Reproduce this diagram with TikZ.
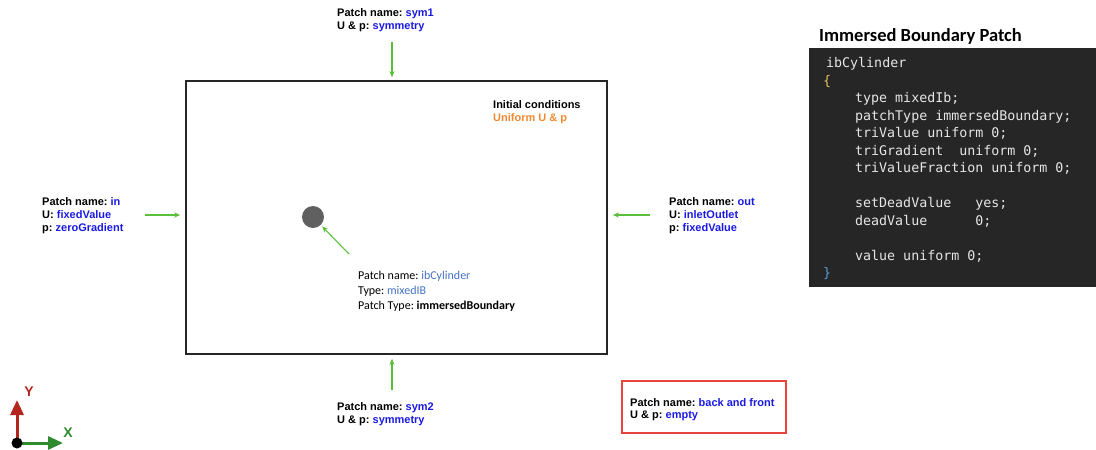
\documentclass[tikz,border=0pt]{standalone}
\usepackage{fontspec}
\setmainfont{Liberation Sans}
\newfontfamily\calfont{Carlito}
\newfontfamily\monofont{DejaVu Sans Mono}
\usetikzlibrary{arrows.meta}
\frenchspacing
\definecolor{valblue}{HTML}{1A1AE6}
\definecolor{ibblue}{HTML}{4472C4}
\definecolor{icorange}{HTML}{F08A30}
\definecolor{arrgreen}{HTML}{5BBE3A}
\definecolor{boxred}{HTML}{E8453C}
\definecolor{axred}{HTML}{B3261E}
\definecolor{axgreen}{HTML}{2E8B2E}
\definecolor{codebg}{HTML}{262626}
\definecolor{codefg}{HTML}{E6E6E6}
\definecolor{braceyel}{HTML}{E0C060}
\definecolor{braceblue}{HTML}{569CD6}
\definecolor{cylgray}{HTML}{606060}
\tikzset{
  lbl/.style={anchor=north west, inner sep=0pt, align=left, font=\frenchspacing\fontsize{11}{13}\selectfont\bfseries},
  iblbl/.style={anchor=north west, inner sep=0pt, align=left, font=\frenchspacing\calfont\fontsize{12}{15}\selectfont},
  codeline/.style={anchor=base west, inner sep=0pt, text=codefg, font=\monofont\fontsize{13.3}{17.5}\selectfont},
  bcarrow/.style={draw=arrgreen, line width=1.1pt, -{Stealth[length=6pt,width=5pt]}},
  axarrow/.style={line width=3pt, -{Triangle[length=15pt,width=13pt]}}
}
\begin{document}
\begin{tikzpicture}[x=1pt,y=-1pt]
\useasboundingbox (0,0) rectangle (1096,450);
% domain
\node[draw=black!85, line width=1.6pt, minimum width=421pt, minimum height=273pt, inner sep=0pt] (domain) at (396.5,217.5) {};
% cylinder
\node[circle, fill=cylgray, minimum size=22pt, inner sep=0pt] (cyl) at (313,217) {};
% labels
\node[lbl] (sym1) at (337,8) {Patch name: \textcolor{valblue}{sym1}\\U \& p: \textcolor{valblue}{symmetry}};
\node[lbl] (inlbl) at (42,197) {Patch name: \textcolor{valblue}{in}\\U: \textcolor{valblue}{fixedValue}\\p: \textcolor{valblue}{zeroGradient}};
\node[lbl] (outlbl) at (669,197) {Patch name: \textcolor{valblue}{out}\\U: \textcolor{valblue}{inletOutlet}\\p: \textcolor{valblue}{fixedValue}};
\node[lbl] (init) at (493,100) {Initial conditions\\\textcolor{icorange}{Uniform U \& p}};
\node[lbl] (sym2) at (337,402) {Patch name: \textcolor{valblue}{sym2}\\U \& p: \textcolor{valblue}{symmetry}};
\node[iblbl] (iblbl) at (358,270.5) {Patch name: \textcolor{ibblue}{ibCylinder}\\Type: \textcolor{ibblue}{mixedIB}\\Patch Type: \textbf{immersedBoundary}};
% back and front box
\node[draw=boxred, line width=1.3pt, minimum width=164pt, minimum height=52pt, inner sep=0pt] (bfbox) at (704,407) {};
\node[lbl, font=\frenchspacing\fontsize{11}{12.5}\selectfont\bfseries] (bflbl) at (630,398) {Patch name: \textcolor{valblue}{back and front}\\U \& p: \textcolor{valblue}{empty}};
% arrows
\coordinate (topstart) at (392,42);
\coordinate (botstart) at (392,390);
\coordinate (leftstart) at (145,215);
\coordinate (rightstart) at (650,215);
\coordinate (cylstart) at (349,254);
\draw[bcarrow, shorten >=3pt] (topstart) -- (topstart |- domain.north);
\draw[bcarrow, shorten >=4pt] (botstart) -- (botstart |- domain.south);
\draw[bcarrow, shorten >=5pt] (leftstart) -- (leftstart -| domain.west);
\draw[bcarrow, shorten >=5pt] (rightstart) -- (rightstart -| domain.east);
\draw[bcarrow, shorten >=2pt] (cylstart) -- (cyl);
% axes
\coordinate (origin) at (17,443);
\coordinate (yend) at (17,400);
\coordinate (xend) at (63,443);
\draw[axarrow, axred] (origin) -- (yend);
\draw[axarrow, axgreen] (origin) -- (xend);
\fill[black] (origin) circle (5.5pt);
\node[text=axred, font=\fontsize{14}{14}\selectfont\bfseries, inner sep=0pt] (ylbl) at (29,392) {Y};
\node[text=axgreen, font=\fontsize{14}{14}\selectfont\bfseries, inner sep=0pt] (xlbl) at (68,433) {X};
% code panel
\node[anchor=base west, inner sep=0pt, font=\calfont\bfseries\fontsize{18.5}{20}\selectfont] (title) at (819,41) {Immersed Boundary Patch};
\fill[codebg] (809,48) rectangle (1096,287);
\node[codeline] (c0) at (826,67.5) {ibCylinder};
\node[codeline, text=braceyel] (c1) at (823,85) {\{};
\node[codeline] (c2) at (855,102.5) {type mixedIb;};
\node[codeline] (c3) at (855,120) {patchType immersedBoundary;};
\node[codeline] (c4) at (855,137.5) {triValue uniform 0;};
\node[codeline] (c5) at (855,155) {triGradient\ \ uniform 0;};
\node[codeline] (c6) at (855,172.5) {triValueFraction uniform 0;};
\node[codeline] (c8) at (855,207.5) {setDeadValue\ \ \ yes;};
\node[codeline] (c9) at (855,225) {deadValue\ \ \ \ \ \ 0;};
\node[codeline] (c11) at (855,260) {value uniform 0;};
\node[codeline, text=braceblue] (c12) at (823,277.5) {\}};
\end{tikzpicture}
\end{document}
